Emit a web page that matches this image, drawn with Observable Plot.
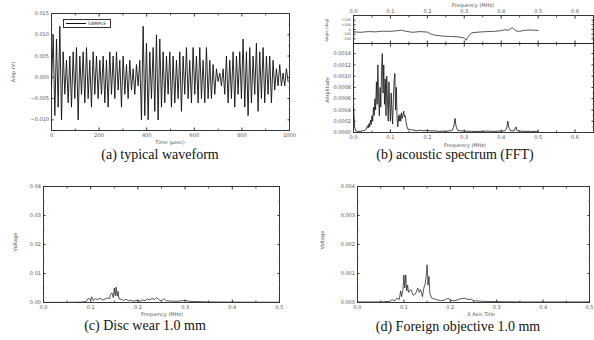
<!DOCTYPE html>
<html><head><meta charset="utf-8">
<script src="https://cdn.jsdelivr.net/npm/d3@7"></script>
<script src="https://cdn.jsdelivr.net/npm/@observablehq/plot@0.6"></script>
<style>
body{margin:0;background:#fff;}
#root{position:relative;width:594px;height:340px;overflow:hidden;font-family:"DejaVu Sans",sans-serif;background:#fff;}
.p{position:absolute;}
.cap{position:absolute;font-family:"Liberation Serif","DejaVu Serif","Times New Roman",serif;font-size:14px;color:#111;white-space:nowrap;transform:translate(-50%,-50%);}
.lab{position:absolute;font-size:5px;color:#555;white-space:nowrap;transform:translate(-50%,-50%);}
.rot{transform:translate(-50%,-50%) rotate(-90deg);}
</style></head><body><div id="root"></div>
<script>
// ---------- (a) typical waveform : extrema sampled every 7 µs ----------
const waveStep = 7;
const waveValues = [
-0.002,0.010,-0.009,0.009,-0.007,0.012,-0.010,0.006,-0.004,0.004,
-0.006,0.005,-0.007,0.006,-0.005,0.007,-0.010,0.005,-0.004,0.006,
-0.006,0.007,-0.005,0.004,-0.007,0.006,-0.004,0.005,-0.005,0.004,
-0.004,0.005,-0.006,0.004,-0.007,0.006,-0.004,0.005,-0.005,0.006,
-0.003,0.004,-0.007,0.005,-0.004,0.003,-0.005,0.004,-0.003,0.002,
-0.004,0.003,-0.002,0.004,-0.010,0.012,-0.009,0.008,-0.010,0.006,
-0.005,0.007,-0.008,0.010,-0.010,0.009,-0.007,0.006,-0.006,0.005,
-0.004,0.006,-0.007,0.005,-0.006,0.004,-0.005,0.006,-0.008,0.005,
-0.004,0.007,-0.005,0.004,-0.006,0.007,-0.004,0.005,-0.006,0.007,
-0.005,0.004,-0.006,0.007,-0.005,0.004,-0.005,0.003,-0.004,0.002,
-0.001,0.001,-0.002,0.002,-0.004,0.005,-0.006,0.004,-0.005,0.006,
-0.007,0.005,-0.004,0.006,-0.005,0.009,-0.007,0.006,-0.009,0.007,
-0.006,0.005,-0.004,0.008,-0.008,0.006,-0.005,0.007,-0.006,0.005,
-0.004,0.005,-0.006,0.004,-0.003,0.002,-0.002,0.003,-0.002,0.001,
-0.002,0.002,-0.001
];
const waveXTicks = [0,200,400,600,800,1000];
const waveYTicks = [-0.010,-0.005,0.000,0.005,0.010,0.015];

// ---------- (b) acoustic spectrum (FFT) ----------
const specFreq = [0.000,0.003,0.006,0.010,0.015,0.020,0.025,0.030,0.035,0.038,0.040,0.042,0.044,0.046,0.048,0.050,0.052,0.054,0.056,0.058,0.060,0.062,0.064,0.066,0.068,0.070,0.072,0.074,0.076,0.078,0.080,0.082,0.084,0.086,0.088,0.090,0.092,0.094,0.096,0.098,0.100,0.102,0.104,0.106,0.108,0.110,0.112,0.114,0.116,0.118,0.120,0.122,0.124,0.126,0.128,0.130,0.132,0.134,0.136,0.138,0.140,0.142,0.145,0.148,0.152,0.156,0.160,0.170,0.180,0.190,0.200,0.210,0.220,0.230,0.240,0.250,0.260,0.268,0.272,0.275,0.278,0.282,0.290,0.300,0.320,0.340,0.360,0.380,0.400,0.410,0.415,0.418,0.421,0.425,0.435,0.440,0.443,0.460,0.480,0.500];
const specAmp = [0.00045,0.00010,0.00003,0.00002,0.00002,0.00002,0.00003,0.00004,0.00006,0.00012,0.00008,0.00016,0.00010,0.00022,0.00014,0.00030,0.00020,0.00045,0.00030,0.00060,0.00040,0.00090,0.00050,0.00120,0.00060,0.00030,0.00080,0.00045,0.00110,0.00140,0.00070,0.00120,0.00050,0.00095,0.00030,0.00100,0.00060,0.00020,0.00090,0.00050,0.00020,0.00070,0.00040,0.00015,0.00060,0.00090,0.00105,0.00040,0.00080,0.00025,0.00010,0.00030,0.00020,0.00032,0.00020,0.00035,0.00025,0.00030,0.00038,0.00028,0.00030,0.00020,0.00010,0.00005,0.00006,0.00004,0.00005,0.00003,0.00004,0.00003,0.00004,0.000025,0.00003,0.00002,0.000025,0.00002,0.00003,0.00004,0.00012,0.00025,0.00010,0.00004,0.00003,0.000025,0.00002,0.00002,0.000025,0.00002,0.000025,0.00003,0.00008,0.00020,0.00008,0.00003,0.00003,0.00010,0.00003,0.00002,0.00002,0.00002];
const phaseFreq = [0.00,0.02,0.04,0.06,0.08,0.10,0.12,0.13,0.14,0.16,0.18,0.20,0.21,0.22,0.24,0.26,0.28,0.30,0.305,0.31,0.32,0.34,0.36,0.38,0.40,0.41,0.42,0.43,0.44,0.45,0.46,0.48,0.50];
const phaseDeg = [-50,-60,-45,-50,-35,-40,-25,-15,-35,-60,-45,-55,-100,-120,-140,-150,-155,-180,-230,-160,-70,-55,-45,-40,-25,-5,-15,40,-30,-40,-20,-10,-20];
const specXTicks = [0.0,0.1,0.2,0.3,0.4,0.5,0.6];
const specYTicks = [0.0000,0.0002,0.0004,0.0006,0.0008,0.0010,0.0012,0.0014];
const phaseYTicks = [-200,-100,0,100,200];

// ---------- (c) Disc wear 1.0 mm ----------
const discFreq = [0.00,0.05,0.08,0.09,0.095,0.100,0.102,0.105,0.110,0.115,0.120,0.125,0.130,0.135,0.140,0.142,0.145,0.148,0.150,0.152,0.154,0.156,0.158,0.160,0.165,0.170,0.175,0.180,0.185,0.190,0.200,0.205,0.210,0.215,0.220,0.225,0.230,0.235,0.240,0.245,0.250,0.255,0.260,0.270,0.280,0.300,0.310,0.330,0.350,0.400,0.450,0.500];
const discAmp = [0.00005,0.00005,0.00015,0.0003,0.0014,0.0009,0.0020,0.0007,0.0013,0.0010,0.0015,0.0009,0.0011,0.0016,0.0013,0.0028,0.0033,0.0017,0.0050,0.0024,0.0053,0.0022,0.0038,0.0013,0.0011,0.0007,0.0011,0.0006,0.0008,0.0005,0.0007,0.0004,0.0009,0.0006,0.0012,0.0009,0.0014,0.0010,0.0017,0.0009,0.0006,0.0013,0.0006,0.0005,0.0004,0.0007,0.0004,0.0003,0.0002,0.00015,0.0001,0.0001];
const discXTicks = [0.0,0.1,0.2,0.3,0.4,0.5];
const discYTicks = [0.00,0.01,0.02,0.03,0.04];

// ---------- (d) Foreign objective 1.0 mm ----------
const foreignFreq = [0.00,0.05,0.07,0.075,0.080,0.085,0.090,0.093,0.095,0.098,0.100,0.102,0.104,0.106,0.108,0.110,0.115,0.120,0.125,0.130,0.133,0.136,0.140,0.143,0.146,0.148,0.150,0.152,0.154,0.156,0.160,0.170,0.180,0.190,0.195,0.200,0.210,0.220,0.230,0.240,0.245,0.250,0.270,0.300,0.350,0.400,0.450,0.500];
const foreignAmp = [0.00002,0.00002,0.00004,0.00010,0.00005,0.00015,0.00010,0.00040,0.00020,0.00045,0.00095,0.00050,0.00095,0.00040,0.00060,0.00035,0.00045,0.00025,0.00030,0.00050,0.00035,0.00045,0.00020,0.00050,0.00065,0.00090,0.00130,0.00060,0.00090,0.00030,0.00015,0.00010,0.00006,0.00010,0.00015,0.00008,0.00006,0.00012,0.00015,0.00010,0.00012,0.00006,0.00004,0.00003,0.00002,0.00002,0.00002,0.00002];
const foreignXTicks = [0.0,0.1,0.2,0.3,0.4,0.5];
const foreignYTicks = [0.000,0.001,0.002,0.003,0.004];

// ---------- helpers ----------
const root = document.getElementById("root");
const waveData = waveValues.map((v, i) => ({x: i * waveStep, y: v}));
const zip = (xs, ys) => xs.map((x, i) => ({x, y: ys[i]}));

function minor(ticks) {
  const out = [];
  for (let i = 0; i < ticks.length - 1; i++) out.push((ticks[i] + ticks[i + 1]) / 2);
  return out;
}

function panel(o) {
  const none = () => "";
  const ax = {tickSize: -2.5, tickPadding: 5, stroke: "#333"};
  const mi = {tickSize: -1.5, tickPadding: 0, tickFormat: none};
  const marks = [
    Plot.frame({stroke: "#222", strokeWidth: 0.9}),
    Plot.axisX({anchor: "bottom", ticks: o.xTicks, tickFormat: o.xBottomLabels ? o.xFmt : none, ...ax, label: null}),
    Plot.axisX({anchor: "top", ticks: o.xTicks, tickFormat: o.xTopLabels ? o.xFmt : none, ...ax, label: null}),
    Plot.axisX({anchor: "bottom", ticks: minor(o.xTicks), ...mi, label: null}),
    Plot.axisX({anchor: "top", ticks: minor(o.xTicks), ...mi, label: null}),
    Plot.axisY({anchor: "left", ticks: o.yTicks, tickFormat: o.yFmt, ...ax, label: null, fontSize: o.yFont || 5}),
    Plot.axisY({anchor: "right", ticks: o.yTicks, tickFormat: none, ...ax, label: null}),
    Plot.axisY({anchor: "left", ticks: minor(o.yTicks), ...mi, label: null}),
    Plot.axisY({anchor: "right", ticks: minor(o.yTicks), ...mi, label: null}),
    Plot.line(o.data, {x: "x", y: "y", stroke: "#111", strokeWidth: o.sw || 0.8, clip: true})
  ];
  const svg = Plot.plot({
    width: o.width, height: o.height,
    marginLeft: o.ml, marginRight: o.mr, marginTop: o.mt, marginBottom: o.mb,
    x: {domain: o.xDomain}, y: {domain: o.yDomain},
    style: {fontSize: "5px", fontFamily: "DejaVu Sans, sans-serif", color: "#555", background: "transparent", overflow: "visible"},
    marks
  });
  svg.classList.add("p");
  svg.style.left = o.left + "px";
  svg.style.top = o.top + "px";
  root.appendChild(svg);
}

function text(cls, str, x, y, extra) {
  const d = document.createElement("div");
  d.className = cls;
  d.textContent = str;
  d.style.left = x + "px";
  d.style.top = y + "px";
  if (extra) Object.assign(d.style, extra);
  root.appendChild(d);
}

const f1 = d3.format(".1f");

// (a)
panel({data: waveData, left: 0, top: 0, width: 295, height: 145, ml: 51, mr: 6, mt: 13, mb: 15,
  xDomain: [0, 1000], yDomain: [-0.0125, 0.015], xTicks: waveXTicks, yTicks: waveYTicks,
  xFmt: d3.format("d"), yFmt: d3.format(".3f"), xBottomLabels: true, sw: 0.9});
text("lab", "Time (μsec)", 170, 142);
text("lab rot", "Amp (V)", 13, 72);
// legend box
const lg = document.createElement("div");
Object.assign(lg.style, {position: "absolute", left: "63px", top: "19px", width: "46px", height: "7px", border: "0.8px solid #333", background: "#fff"});
root.appendChild(lg);
const ls = document.createElement("div");
Object.assign(ls.style, {position: "absolute", left: "66px", top: "22.5px", width: "20px", height: "0", borderTop: "1px solid #111"});
root.appendChild(ls);
text("lab", "SAMPLE", 97, 22.8, {fontSize: "4.5px", color: "#333"});
text("cap", "(a) typical waveform", 160, 155);

// (b) phase
panel({data: zip(phaseFreq, phaseDeg), left: 295, top: 0, width: 299, height: 44, ml: 58, mr: 1, mt: 15, mb: 1,
  xDomain: [0, 0.65], yDomain: [-300, 300], xTicks: specXTicks, yTicks: phaseYTicks,
  xFmt: f1, yFmt: d => d > 0 ? "+" + d : String(d), xTopLabels: true, yFont: 3.5, sw: 0.7});
text("lab", "Frequency (MHz)", 473, 5);
text("lab rot", "Angle (deg)", 326, 30, {fontSize: "4px"});
// (b) amplitude
panel({data: zip(specFreq, specAmp), left: 295, top: 43, width: 299, height: 100, ml: 58, mr: 1, mt: 0, mb: 11,
  xDomain: [0, 0.65], yDomain: [0, 0.00158], xTicks: specXTicks, yTicks: specYTicks,
  xFmt: f1, yFmt: d3.format(".4f"), xBottomLabels: true, sw: 0.8});
text("lab", "Frequency (MHz)", 465, 145);
text("lab rot", "Amplitude", 327, 90);
text("cap", "(b) acoustic spectrum (FFT)", 455, 155);

// (c)
panel({data: zip(discFreq, discAmp), left: 0, top: 170, width: 295, height: 145, ml: 43, mr: 16, mt: 16, mb: 13,
  xDomain: [0, 0.5], yDomain: [0, 0.04], xTicks: discXTicks, yTicks: discYTicks,
  xFmt: f1, yFmt: d3.format(".2f"), xBottomLabels: true, sw: 0.7});
text("lab", "Frequency (MHz)", 162, 314);
text("lab rot", "Voltage", 15, 242);
text("cap", "(c) Disc wear 1.0 mm", 145, 326);

// (d)
panel({data: zip(foreignFreq, foreignAmp), left: 295, top: 170, width: 299, height: 145, ml: 62, mr: 5, mt: 16, mb: 13,
  xDomain: [0, 0.5], yDomain: [0, 0.004], xTicks: foreignXTicks, yTicks: foreignYTicks,
  xFmt: f1, yFmt: d3.format(".3f"), xBottomLabels: true, sw: 0.7});
text("lab", "X Axis Title", 481, 314);
text("lab rot", "Voltage", 322, 240);
text("cap", "(d) Foreign objective 1.0 mm", 458, 327);
</script></body></html>
